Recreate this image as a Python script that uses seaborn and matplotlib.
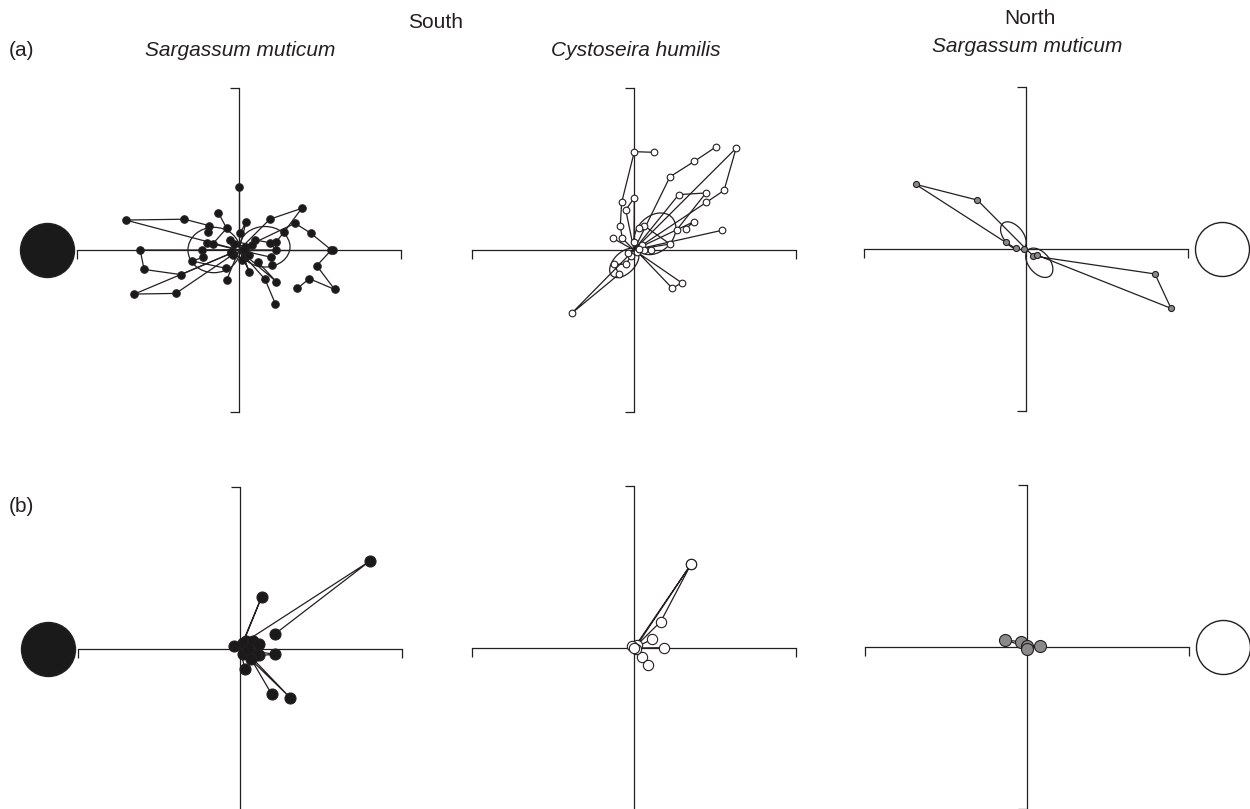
import pandas as pd
import matplotlib.pyplot as plt
import seaborn as sns
from matplotlib.patches import Ellipse

sns.set_theme(style="white")
plt.rcParams['font.family'] = ['Liberation Sans', 'DejaVu Sans']

# ------------------------------
# Data: tracks (x, y) per panel, each starting at the origin
# ------------------------------
a1_tracks = [
    [(0, 0), (0, 0.39)],
    [(0, 0), (-0.70, 0.185), (-0.337, 0.19), (-0.183, 0.15), (-0.19, 0.11)],
    [(0, 0), (0.19, 0.19), (0.387, 0.257), (0.28, 0.113), (0.228, 0.049)],
    [(0, 0), (0.346, 0.165), (0.444, 0.103), (0.57, 0.0), (0.48, -0.097),
     (0.59, -0.243), (0.434, -0.177), (0.36, -0.237)],
    [(0, 0), (-0.61, 0.0), (-0.586, -0.12), (-0.358, -0.152), (-0.05, -0.02)],
    [(0, 0), (-0.646, -0.272), (-0.39, -0.268), (-0.04, -0.03)],
    [(0, 0), (0.16, -0.18), (0.225, -0.333)],
    [(0, 0), (0.23, -0.195), (0.115, -0.072)],
    [(0, 0), (-0.076, -0.185)],
    [(0, 0), (0.064, -0.134), (0.03, -0.05)],
    [(0, 0), (-0.23, 0.0), (-0.22, -0.045), (-0.29, -0.068), (-0.08, -0.113)],
    [(0, 0), (-0.196, 0.045), (-0.16, 0.04), (-0.076, 0.134), (-0.128, 0.23)],
    [(0, 0), (0.043, 0.17), (0.006, 0.103)],
    [(0, 0), (0.23, 0.0), (0.19, 0.045), (0.099, 0.062)],
    [(0, 0), (0.20, -0.045), (0.205, -0.09)],
    [(0, 0), (0.58, 0.0)],
    [(0, 0), (0.04, 0.02), (-0.03, 0.04), (0.06, -0.03), (-0.05, -0.01),
     (0.02, -0.06), (0.08, 0.03), (-0.055, 0.06), (0.03, 0.0)],
]

a2_tracks = [
    [(0, 0), (-0.072, 0.072), (-0.085, 0.148), (-0.076, 0.294), (0.002, 0.607), (0.123, 0.603)],
    [(0, 0), (-0.051, 0.247), (0.002, 0.323), (0.0, 0.05)],
    [(0, 0), (-0.13, 0.072)],
    [(0, 0), (0.222, 0.452), (0.372, 0.547), (0.508, 0.638)],
    [(0, 0), (0.63, 0.628), (0.556, 0.368), (0.446, 0.294), (0.05, 0.03)],
    [(0, 0), (0.276, 0.342), (0.444, 0.352), (0.263, 0.123)],
    [(0, 0), (0.37, 0.175), (0.319, 0.13)],
    [(0, 0), (0.545, 0.122)],
    [(0, 0), (0.222, 0.037), (0.062, 0.15), (0.033, 0.134)],
    [(0, 0), (0.294, -0.202), (0.237, -0.237), (0.02, -0.01)],
    [(0, 0), (-0.385, -0.391), (-0.093, -0.15), (-0.123, -0.088), (-0.05, -0.088), (-0.02, -0.04)],
    [(0, 0), (0.103, 0.0), (0.06, 0.0), (0.03, 0.005), (-0.04, -0.02)],
]

a3_tracks = [
    [(0, 0), (-0.30, 0.302), (-0.681, 0.399), (-0.125, 0.041), (-0.064, 0.004)],
    [(0, 0), (0.045, -0.043), (0.796, -0.154), (0.895, -0.366), (0.066, -0.037)],
    [(0, 0), (-0.01, 0.0)],
]

b1_tracks = [
    [(0, 0), (0.04, 0.05), (0.802, 0.543), (0.216, 0.093)],
    [(0, 0), (0.134, 0.323), (0.02, 0.04)],
    [(0, 0), (0.216, -0.033), (0.12, -0.04)],
    [(0, 0), (0.031, -0.125)],
    [(0, 0), (0.309, -0.30), (0.05, -0.03), (0.196, -0.28)],
    [(0, 0), (-0.04, 0.02), (0.02, -0.03), (0.08, 0.05), (0.10, -0.04),
     (0.05, 0.0), (0.07, -0.06), (0.12, 0.03)],
]

b2_tracks = [
    [(0, 0), (0.352, 0.517), (0.02, 0.02)],
    [(0, 0), (0.165, 0.163), (0.352, 0.517)],
    [(0, 0), (0.113, 0.054)],
    [(0, 0), (0.187, 0.002)],
    [(0, 0), (0.051, -0.057), (0.084, -0.105)],
    [(0, 0), (-0.01, 0.01), (0.01, -0.005), (0.0, 0.0)],
]

b3_tracks = [
    [(0, 0), (-0.136, 0.043), (-0.039, 0.033), (-0.002, 0.006)],
    [(0, 0), (0.08, 0.006)],
    [(0, 0), (0.0, -0.01)],
]

# ellipses: (x, y, width, height, angle)
a1_ellipses = [(-0.155, 0.0, 0.32, 0.28, 0), (0.16, 0.02, 0.31, 0.25, 0)]
a2_ellipses = [(0.13, 0.10, 0.29, 0.22, 45), (-0.06, -0.08, 0.22, 0.13, 45)]
a3_ellipses = [(-0.078, 0.082, 0.20, 0.12, -50), (0.082, -0.085, 0.21, 0.13, -50)]

# big reference circle on the horizontal axis: x position and fill (None = no circle)
big_circle_x = [-1.185, None, 1.21, -1.185, None, 1.21]
big_circle_face = ['#1a1a1a', None, 'white', '#1a1a1a', None, 'white']

column_titles = ["Sargassum muticum", "Cystoseira humilis", "Sargassum muticum"]
region_labels = ["South", "North"]
row_labels = ["(a)", "(b)"]

# ------------------------------
# Layout / styling
# ------------------------------
W, H = 1250, 809
HALF = 162
LINE = '#231f20'
centers = [(239, 250), (634, 250), (1026, 249), (240, 649), (634, 648), (1027, 647)]
face = ['#1a1a1a', 'white', '#8a8a8a', '#1a1a1a', 'white', '#8a8a8a']
msize = [29, 23, 19, 63, 55, 75]
all_tracks = [a1_tracks, a2_tracks, a3_tracks, b1_tracks, b2_tracks, b3_tracks]
all_ellipses = [a1_ellipses, a2_ellipses, a3_ellipses, [], [], []]


def tracks_to_df(tracks):
    rows = []
    for i, tr in enumerate(tracks):
        for j, (x, y) in enumerate(tr):
            rows.append({'track': i, 'step': j, 'x': x, 'y': y})
    return pd.DataFrame(rows)


fig = plt.figure(figsize=(12.5, 8.09), dpi=100)

for k in range(6):
    cx, cy = centers[k]
    ax = fig.add_axes([(cx - HALF) / W, 1 - (cy + HALF) / H, 2 * HALF / W, 2 * HALF / H])
    ax.patch.set_alpha(0)

    df = tracks_to_df(all_tracks[k])
    sns.lineplot(data=df, x='x', y='y', units='track', estimator=None, sort=False,
                 color=LINE, lw=0.9, ax=ax)
    sns.scatterplot(data=df[df['step'] > 0], x='x', y='y', color=face[k],
                    edgecolor=LINE, linewidth=0.8, s=msize[k], ax=ax, zorder=3)

    for (ex, ey, ew, eh, ang) in all_ellipses[k]:
        ax.add_patch(Ellipse((ex, ey), ew, eh, angle=ang, fill=False,
                             edgecolor=LINE, lw=0.9))

    if big_circle_x[k] is not None:
        ax.scatter([big_circle_x[k]], [0], s=1512, c=big_circle_face[k], edgecolors=LINE,
                   linewidths=1.0, clip_on=False, zorder=3)

    ax.set_xlim(-1, 1)
    ax.set_ylim(-1, 1)
    ax.set_xlabel('')
    ax.set_ylabel('')
    for s in ['top', 'right']:
        ax.spines[s].set_visible(False)
    for s in ['left', 'bottom']:
        ax.spines[s].set_position(('data', 0))
        ax.spines[s].set_linewidth(0.9)
        ax.spines[s].set_color(LINE)
    ax.set_xticks([-1, 1])
    ax.set_yticks([-1, 1])
    ax.set_xticklabels([])
    ax.set_yticklabels([])
    ax.tick_params(bottom=True, left=True, direction='out', length=6.5,
                   width=0.9, color=LINE)

# Text
fs = 15
tc = LINE
fig.text(436 / W, 1 - 22 / H, region_labels[0], ha='center', va='center', fontsize=fs, color=tc)
fig.text(1030 / W, 1 - 18 / H, region_labels[1], ha='center', va='center', fontsize=fs, color=tc)
fig.text(9 / W, 1 - 50 / H, row_labels[0], ha='left', va='center', fontsize=fs, color=tc)
fig.text(9 / W, 1 - 507 / H, row_labels[1], ha='left', va='center', fontsize=fs, color=tc)
fig.text(240 / W, 1 - 50 / H, column_titles[0], ha='center', va='center', fontsize=fs,
         style='italic', color=tc)
fig.text(636 / W, 1 - 50 / H, column_titles[1], ha='center', va='center', fontsize=fs,
         style='italic', color=tc)
fig.text(1027 / W, 1 - 47 / H, column_titles[2], ha='center', va='center', fontsize=fs,
         style='italic', color=tc)

fig.savefig('out.png', dpi=100)
